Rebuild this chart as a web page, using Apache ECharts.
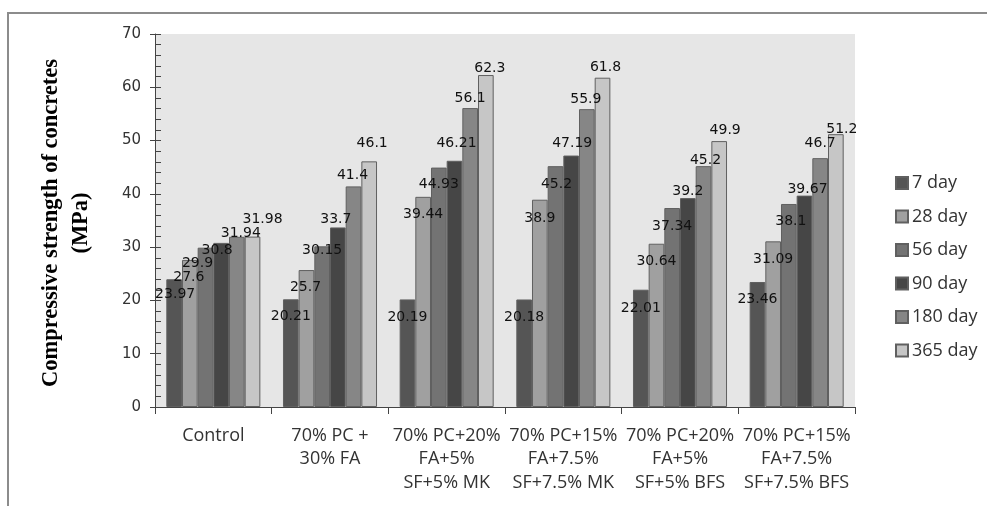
<!DOCTYPE html>
<html>
<head>
<meta charset="utf-8">
<script src="https://cdn.jsdelivr.net/npm/echarts@6/dist/echarts.min.js"></script>
<style>html,body{margin:0;padding:0;background:#fff;}#chart{width:987px;height:506px;}</style>
</head>
<body>
<div id="chart"></div>
<script>
// ---- data ----
var categories = ['Control', '70% PC +\n30% FA', '70% PC+20%\nFA+5%\nSF+5% MK', '70% PC+15%\nFA+7.5%\nSF+7.5% MK', '70% PC+20%\nFA+5%\nSF+5% BFS', '70% PC+15%\nFA+7.5%\nSF+7.5% BFS'];
var seriesNames = ['7 day', '28 day', '56 day', '90 day', '180 day', '365 day'];
var day7   = [23.97, 20.21, 20.19, 20.18, 22.01, 23.46];
var day28  = [27.6, 25.7, 39.44, 38.9, 30.64, 31.09];
var day56  = [29.9, 30.15, 44.93, 45.2, 37.34, 38.1];
var day90  = [30.8, 33.7, 46.21, 47.19, 39.2, 39.67];
var day180 = [31.94, 41.4, 56.1, 55.9, 45.2, 46.7];
var day365 = [31.98, 46.1, 62.3, 61.8, 49.9, 51.2];
var yTicks = [0, 10, 20, 30, 40, 50, 60, 70];

// ---- styling ----
var seriesValues = [day7, day28, day56, day90, day180, day365];
var colors = ['#555555', '#a0a0a0', '#737373', '#464646', '#868686', '#c6c6c6'];
// label nudges [dx, dy] relative to bar top centre, per series, per category
var labelNudge = [
  [[1,15],[0,17],[0,18],[0,18],[0,19],[0,17]],
  [[-1,17],[-1,17],[0,18],[0,19],[0,18],[0,18]],
  [[-8,16],[0,4],[0,17],[1,18],[0,18],[2,17]],
  [[-4,7],[-2,-8],[2,-17],[1,-12],[0,-7],[3,-6]],
  [[4,-3],[-1,-11],[0,-10],[-1,-10],[2,-6],[0,-15]],
  [[10,-17],[3,-18],[4,-7],[3,-10],[6,-11],[6,-5]]
];

var series = seriesNames.map(function (name, si) {
  return {
    name: name,
    type: 'bar',
    barGap: '0%',
    barCategoryGap: '19.4%',
    itemStyle: { color: colors[si], borderColor: '#606060', borderWidth: 1 },
    label: {
      show: true,
      position: ['50%', 0],
      align: 'center',
      verticalAlign: 'middle',
      fontFamily: 'DejaVu Sans',
      fontSize: 14,
      color: '#111'
    },
    data: seriesValues[si].map(function (v, ci) {
      return { value: v, label: { offset: labelNudge[si][ci] } };
    })
  };
});

var chart = echarts.init(document.getElementById('chart'), null, { renderer: 'canvas' });
chart.setOption({
  animation: false,
  backgroundColor: '#ffffff',
  grid: { left: 155, top: 34, width: 700, height: 373, show: true, backgroundColor: '#e6e6e6', borderWidth: 0 },
  legend: {
    orient: 'vertical',
    left: 890,
    top: 169,
    itemWidth: 12,
    itemHeight: 12,
    itemGap: 15.5,
    icon: 'rect',
    textStyle: { fontFamily: 'Open Sans', fontSize: 18, color: '#333', lineHeight: 18, padding: [0, 0, 0, -1] },
    data: seriesNames
  },
  xAxis: {
    type: 'category',
    data: categories,
    axisLine: { lineStyle: { color: '#444', width: 1 } },
    axisTick: { show: true, length: 7, lineStyle: { color: '#444' } },
    axisLabel: { interval: 0, margin: 17, fontFamily: 'Open Sans', fontSize: 18, lineHeight: 23.5, color: '#333' },
    splitLine: { show: false }
  },
  yAxis: [{
    type: 'value',
    min: yTicks[0],
    max: yTicks[yTicks.length - 1],
    interval: 10,
    axisLine: { show: true, lineStyle: { color: '#444' } },
    axisTick: { show: true, length: 5, lineStyle: { color: '#444' } },
    axisLabel: { margin: 14, fontFamily: 'DejaVu Sans', fontSize: 15, color: '#333' },
    splitLine: { show: false }
  }, {
    type: 'value',
    min: yTicks[0],
    max: yTicks[yTicks.length - 1],
    interval: 10,
    position: 'left',
    axisLine: { show: false },
    axisTick: { show: true, inside: true, length: 6, lineStyle: { color: '#444' } },
    minorTick: { show: true, splitNumber: 5, length: 6, lineStyle: { color: '#444' } },
    axisLabel: { show: false },
    splitLine: { show: false }
  }],
  graphic: [
    {
      type: 'polyline',
      shape: { points: [[8, 506], [8, 13], [987, 13]] },
      style: { stroke: '#8c8c8c', lineWidth: 2, fill: null }
    },
    {
      type: 'text',
      x: 66,
      y: 223,
      rotation: Math.PI / 2,
      style: {
        text: 'Compressive strength of concretes\n(MPa)',
        fontFamily: 'Liberation Serif',
        fontWeight: 'bold',
        fontSize: 22.5,
        lineHeight: 30,
        fill: '#000',
        align: 'center',
        verticalAlign: 'middle'
      }
    }
  ],
  series: series
});
</script>
</body>
</html>
